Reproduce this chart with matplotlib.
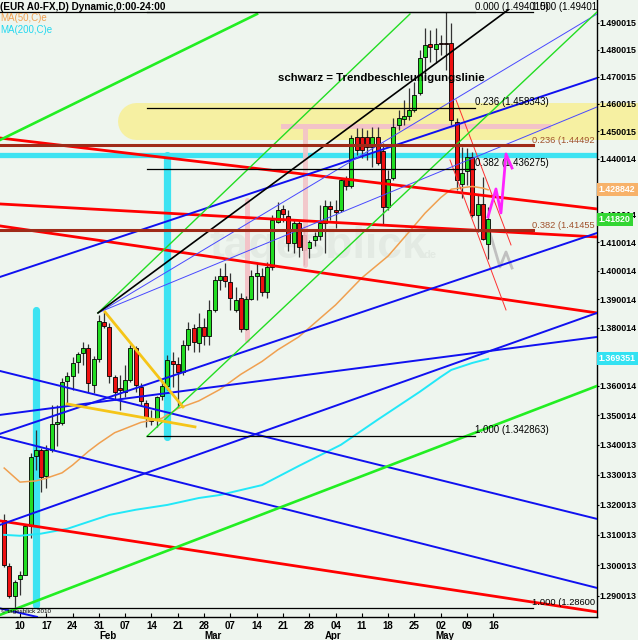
import numpy as np
import matplotlib
matplotlib.use("Agg")
import matplotlib.pyplot as plt

plt.rcParams['font.family'] = ['Liberation Sans', 'DejaVu Sans']

# trading days, day 0 = Monday 10 Jan 2011
days = np.arange(-3, 90)
opens = [1.3149, 1.2997, 1.2900, 1.2954, 1.2970, 1.3129, 1.3362, 1.3383, 1.3295, 1.3383,
         1.3471, 1.3474, 1.3617, 1.3634, 1.3682, 1.3713, 1.3730, 1.3603, 1.3692, 1.3820,
         1.3803, 1.3631, 1.3593, 1.3579, 1.3620, 1.3730, 1.3597, 1.3542, 1.3487, 1.3484,
         1.3566, 1.3600, 1.3686, 1.3676, 1.3648, 1.3741, 1.3800, 1.3748, 1.3803, 1.3772,
         1.3862, 1.3967, 1.3981, 1.3960, 1.3862, 1.3904, 1.3796, 1.3901, 1.3981, 1.3981,
         1.3925, 1.4013, 1.4172, 1.4219, 1.4194, 1.4098, 1.4169, 1.4126, 1.4080, 1.4108,
         1.4122, 1.4169, 1.4230, 1.4215, 1.4215, 1.4327, 1.4301, 1.4479, 1.4479, 1.4479,
         1.4442, 1.4479, 1.4428, 1.4226, 1.4331, 1.4522, 1.4544, 1.4555, 1.4577, 1.4639,
         1.4773, 1.4822, 1.4803, 1.4826, 1.4826, 1.4826, 1.4533, 1.4308, 1.4355, 1.4406,
         1.4197, 1.4237, 1.4094]
highs = [1.3169, 1.3007, 1.2952, 1.2980, 1.3136, 1.3372, 1.3450, 1.3390, 1.3400, 1.3536,
         1.3535, 1.3627, 1.3648, 1.3700, 1.3717, 1.3751, 1.3744, 1.3703, 1.3844, 1.3855,
         1.3817, 1.3638, 1.3638, 1.3672, 1.3741, 1.3737, 1.3610, 1.3552, 1.3518, 1.3566,
         1.3620, 1.3706, 1.3717, 1.3700, 1.3758, 1.3820, 1.3814, 1.3851, 1.3834, 1.3897,
         1.3981, 1.4010, 1.4027, 1.3992, 1.3943, 1.3922, 1.3911, 1.4002, 1.4027, 1.4010,
         1.4031, 1.4197, 1.4244, 1.4233, 1.4215, 1.4180, 1.4180, 1.4162, 1.4108, 1.4137,
         1.4233, 1.4251, 1.4247, 1.4251, 1.4331, 1.4338, 1.4486, 1.4511, 1.4511, 1.4504,
         1.4515, 1.4515, 1.4457, 1.4359, 1.4548, 1.4577, 1.4614, 1.4657, 1.4680, 1.4800,
         1.4882, 1.4874, 1.4881, 1.4855, 1.4940, 1.4900, 1.4548, 1.4442, 1.4438, 1.4424,
         1.4269, 1.4334, 1.4226]
lows = [1.2995, 1.2894, 1.2861, 1.2903, 1.2967, 1.3089, 1.3316, 1.3243, 1.3255, 1.3376,
        1.3395, 1.3467, 1.3542, 1.3586, 1.3644, 1.3672, 1.3580, 1.3576, 1.3682, 1.3800,
        1.3610, 1.3552, 1.3517, 1.3562, 1.3614, 1.3579, 1.3535, 1.3461, 1.3467, 1.3460,
        1.3552, 1.3586, 1.3597, 1.3528, 1.3638, 1.3724, 1.3717, 1.3717, 1.3741, 1.3741,
        1.3855, 1.3932, 1.3943, 1.3862, 1.3855, 1.3786, 1.3793, 1.3897, 1.3897, 1.3911,
        1.3904, 1.4002, 1.4169, 1.4172, 1.4068, 1.4064, 1.4048, 1.4019, 1.4044, 1.4087,
        1.4108, 1.4064, 1.4180, 1.4151, 1.4208, 1.4287, 1.4294, 1.4413, 1.4402, 1.4395,
        1.4370, 1.4377, 1.4162, 1.4215, 1.4323, 1.4504, 1.4522, 1.4541, 1.4570, 1.4632,
        1.4688, 1.4755, 1.4752, 1.4781, 1.4725, 1.4522, 1.4287, 1.4258, 1.4305, 1.4190,
        1.4137, 1.4108, 1.4040]
closes = [1.3001, 1.2900, 1.2945, 1.2970, 1.3129, 1.3358, 1.3382, 1.3293, 1.3383, 1.3471,
          1.3478, 1.3614, 1.3634, 1.3679, 1.3710, 1.3730, 1.3610, 1.3692, 1.3823, 1.3806,
          1.3634, 1.3579, 1.3586, 1.3620, 1.3730, 1.3603, 1.3549, 1.3491, 1.3481, 1.3562,
          1.3600, 1.3689, 1.3676, 1.3648, 1.3741, 1.3797, 1.3751, 1.3803, 1.3772, 1.3862,
          1.3967, 1.3981, 1.3964, 1.3904, 1.3897, 1.3796, 1.3901, 1.3981, 1.3992, 1.3925,
          1.4013, 1.4179, 1.4215, 1.4201, 1.4098, 1.4169, 1.4083, 1.4072, 1.4101, 1.4122,
          1.4169, 1.4230, 1.4219, 1.4208, 1.4323, 1.4301, 1.4475, 1.4431, 1.4431, 1.4442,
          1.4479, 1.4384, 1.4226, 1.4327, 1.4515, 1.4548, 1.4555, 1.4577, 1.4632, 1.4770,
          1.4818, 1.4811, 1.4822, 1.4822, 1.4823, 1.4541, 1.4323, 1.4348, 1.4406, 1.4197,
          1.4237, 1.4111, 1.4182]

# moving averages (read at some days)
ma50_days = [-3, 0, 3, 5, 8, 10, 13, 15, 18, 23, 27, 30, 34, 38, 42, 46, 49, 53, 60, 65,
             70, 74, 77, 80, 82, 86, 88, 89]
ma50 = [1.3322, 1.3275, 1.3279, 1.3288, 1.3306, 1.3332, 1.3378, 1.3405, 1.3441, 1.3476,
        1.3490, 1.3523, 1.3549, 1.3588, 1.3640, 1.3684, 1.3724, 1.3769, 1.3880, 1.3975,
        1.4052, 1.4138, 1.4204, 1.4260, 1.4290, 1.4300, 1.4294, 1.4288]
ma200_days = [-3, 0, 4, 9, 13, 17, 22, 28, 34, 38, 46, 53, 61, 68, 76, 80, 82, 86, 89]
ma200 = [1.3100, 1.3097, 1.3104, 1.3120, 1.3143, 1.3166, 1.3183, 1.3199, 1.3222, 1.3232,
         1.3265, 1.3329, 1.3400, 1.3485, 1.3580, 1.3631, 1.3655, 1.3679, 1.3693]

# drawn trend lines: (day0, price0, day1, price1)
red_thick = [(-3.8, 1.44753, 109.7, 1.42192), (-3.8, 1.42371, 109.7, 1.41194),
             (-3.8, 1.41586, 109.7, 1.38521), (-3.8, 1.31461, 109.7, 1.28486)]
red_thin = [(82.9, 1.46144, 93.35, 1.40911), (81.75, 1.43955, 92.4, 1.38625)]
blue_thick = [(-3.8, 1.39781, 109.7, 1.46954), (-3.8, 1.34371, 109.7, 1.41335),
              (-3.8, 1.31329, 109.7, 1.38521), (-3.8, 1.35013, 109.7, 1.37686),
              (-3.8, 1.36513, 109.7, 1.31527), (-3.8, 1.34270, 109.7, 1.29263),
              (-3.8, 1.28600, 3.23, 1.28325)]
blue_thin = [(15.2, 1.38556, 109.7, 1.45887), (15.2, 1.38556, 109.7, 1.49339)]
green_thick = [(-3.8, 1.44681, 45.06, 1.49339), (-3.8, 1.28389, 109.7, 1.36000)]
green_thin = [(14.83, 1.38521, 74.14, 1.49339), (24.14, 1.342863, 109.7, 1.49414)]
black_line = [(14.83, 1.38521, 92.78, 1.49489)]
gold_lines = [(16.16, 1.38556, 30.99, 1.35284), (8.94, 1.35386, 33.27, 1.34607)]

# fibonacci levels
fib_a = [1.494015, 1.458343, 1.436275, 1.342863]
fib_a_names = ['0.000', '0.236', '0.382', '1.000']
fib_b = [1.44492, 1.41455]
fib_b_names = ['0.236 (1.44492', '0.382 (1.41455']

# magenta / grey sketch of possible path
mag_days = [88.97, 90.49, 91.44, 92.4, 93.54]
mag_price = [1.41906, 1.42909, 1.42049, 1.44172, 1.43665]
grey_days = [89.35, 91.25, 92.4, 93.54]
grey_price = [1.41335, 1.40131, 1.40662, 1.40096]

price_ticks = ['1.490015', '1.480015', '1.470015', '1.460015', '1.450015', '1.440014',
               '1.430014', '1.420014', '1.410014', '1.400014', '1.390014', '1.380014',
               '1.370014', '1.360014', '1.350014', '1.340013', '1.330013', '1.320013',
               '1.310013', '1.300013', '1.290013']
week_days = [0, 5, 10, 15, 20, 25, 30, 35, 40, 45, 50, 55, 60, 65, 70, 75, 80, 85, 90]
week_labels = ['10', '17', '24', '31', '07', '14', '21', '28', '07', '14', '21', '28',
               '04', '11', '18', '25', '02', '09', '16']
month_days = [15, 35, 58, 79]
month_labels = ['Feb', 'Mar', 'Apr', 'May']

bg = '#eef5ee'
fig = plt.figure(figsize=(6.38, 6.40), dpi=100)
fig.patch.set_facecolor(bg)
ax = fig.add_axes([0, 23 / 640, 597 / 638, 617 / 640])
ax.set_facecolor(bg)
ax.set_yscale('log')
ax.set_xlim(-3.8, 109.7)
ax.set_ylim(1.28321, 1.49866)

# watermark
ax.text(36.0, 1.4045, 'tagesblick', fontsize=32, fontweight='bold', color='#e3eae3', zorder=0.5)
ax.text(76.8, 1.4045, 'de', fontsize=8, fontweight='bold', color='#e3eae3', zorder=0.5)

# highlighted zones
ax.plot([22.15, 118], [1.45355, 1.45355], color='#f6f0a2', lw=26.6,
        solid_capstyle='round', clip_on=False, zorder=1)
ax.plot([-3.8, 109.7], [1.44137, 1.44137], color='#3de3f2', lw=3.8, zorder=1.5)
ax.plot([3.04, 3.04], [1.38625, 1.28712], color='#3de3f2', lw=5.2, solid_capstyle='round', zorder=1.5)
ax.plot([27.95, 27.95], [1.44137, 1.34270], color='#3de3f2', lw=5.2, solid_capstyle='round', zorder=1.5)
ax.plot([50.0, 100.4], [1.45192, 1.45192], color='#f3c3c8', lw=3.6, zorder=1.6)
ax.plot([54.18, 54.18], [1.45192, 1.40203], color='#f3c3c8', lw=3.6, solid_capstyle='round', zorder=6.5, alpha=0.9)
ax.plot([43.16, 43.16], [1.42514, 1.37584], color='#f3c3c8', lw=3.6, solid_capstyle='round', zorder=1.6)

# candles
o = np.array(opens)
c = np.array(closes)
up = c >= o
ax.vlines(days, lows, highs, color='#333333', lw=0.9, zorder=4)
ax.bar(days, np.abs(c - o), bottom=np.minimum(o, c), width=0.76,
       color=np.where(up, '#22dd22', '#ee1111'), edgecolor='black', linewidth=0.6, zorder=5)

# moving averages
ax.plot(ma50_days, ma50, color='#f0a050', lw=1.1, zorder=6)
ax.plot(ma200_days, ma200, color='#22e8f8', lw=1.4, zorder=6)

# trend lines
for group, col, lw in [(red_thick, '#ff0000', 2.0), (red_thin, '#ff3030', 0.7),
                       (blue_thick, '#1010f0', 1.4), (blue_thin, '#4848ff', 0.7),
                       (green_thick, '#22ee22', 1.9), (green_thin, '#22dd22', 1.0),
                       (black_line, '#000000', 1.2), (gold_lines, '#f5c518', 2.0)]:
    for d0, p0, d1, p1 in group:
        ax.plot([d0, d1], [p0, p1], color=col, lw=lw, zorder=7)

# fib A (black)
for p, name in zip(fib_a, fib_a_names):
    ax.plot([24.14, 86.5], [p, p], color='black', lw=0.9, zorder=7)
    if name != '0.000':
        ax.text(86.5, p * 1.0015, f'{name} ({p:.6f})', fontsize=7, va='center', ha='left', zorder=8)
ax.text(86.5, 1.49602, '0.000 (1.494015)', fontsize=7, va='center', ha='left', zorder=8)
ax.text(109.7, 1.49602, '1.000 (1.49401', fontsize=7, va='center', ha='right', zorder=8)

# fib B (brown)
for p, name in zip(fib_b, fib_b_names):
    ax.plot([-3.8, 97.53], [p, p], color='#a02a18', lw=2.2, zorder=7)
    ax.text(97.4, p * 1.0011, name, fontsize=6.7, color='#a0522d', va='center', ha='left', zorder=8)
ax.plot([-3.8, 97.53], [1.49401, 1.49401], color='black', lw=0.9, zorder=7)
ax.plot([-3.8, 97.53], [1.28600, 1.28600], color='black', lw=0.9, zorder=7)
ax.text(97.4, 1.28776, '1.000 (1.28600', fontsize=6.7, va='center', ha='left', zorder=8)

# sketches
ax.plot(mag_days, mag_price, color='#ff22ff', lw=2.0, zorder=8)
ax.plot(grey_days, grey_price, color='#c0c0c0', lw=2.0, zorder=3)

ax.text(49.05, 1.46954, 'schwarz = Trendbeschleunigungslinie', fontsize=8.2,
        fontweight='bold', va='center', ha='left', zorder=8)
ax.text(-3.7, 1.2850, '\u00a9 tagesblick 2010', fontsize=4.5, va='center', ha='left', zorder=8)

# axes
for s in ['left', 'top']:
    ax.spines[s].set_visible(False)
ax.spines['right'].set_linewidth(1)
ax.spines['bottom'].set_linewidth(1)
ax.yaxis.tick_right()
ax.set_yticks([float(t) for t in price_ticks])
ax.set_yticklabels(price_ticks, fontsize=6.4, fontweight='bold')
ax.minorticks_off()
ax.tick_params(axis='y', length=1.5, pad=0.6)
ax.set_xticks(week_days)
ax.set_xticklabels(week_labels, fontsize=7, fontweight='bold')
ax.tick_params(axis='x', direction='in', length=3, pad=3)
for d, m in zip(month_days, month_labels):
    ax.text(d, -0.031, m, transform=ax.get_xaxis_transform(), fontsize=7,
            fontweight='bold', ha='left', va='center')

# current values on the price scale
for p, txt, col in [(1.428842, '1.428842', '#f7b26a'), (1.41820, '1.41820', '#33d633'),
                    (1.369351, '1.369351', '#33e2f2')]:
    ax.text(1.003, p, txt, transform=ax.get_yaxis_transform(), fontsize=6.4, fontweight='bold',
            color='white', ha='left', va='center', zorder=10, clip_on=False,
            bbox=dict(boxstyle='square,pad=0.25', fc=col, ec='none'))

fig.text(0.0, 1 - 7 / 640, '(EUR A0-FX,D) Dynamic,0:00-24:00', fontsize=7.2, fontweight='bold',
         va='center', ha='left')
fig.text(0.0, 1 - 18 / 640, 'MA(50,C)e', fontsize=7, color='#f0a050', va='center', ha='left')
fig.text(0.0, 1 - 30 / 640, 'MA(200,C)e', fontsize=7, color='#22d8f0', va='center', ha='left')

fig.savefig('out.png', dpi=100, facecolor=bg)
